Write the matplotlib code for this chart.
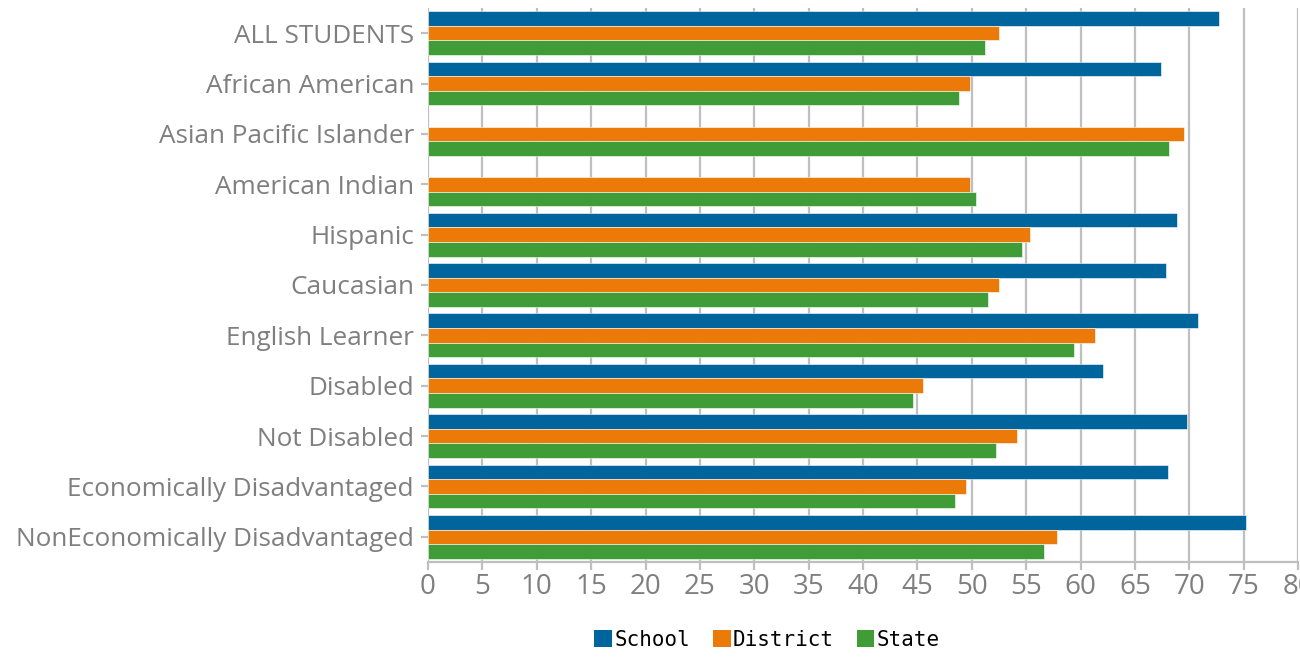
import numpy as np
import matplotlib
matplotlib.use("Agg")
import matplotlib.pyplot as plt
from matplotlib.patches import Patch

categories = ["ALL STUDENTS", "African American", "Asian Pacific Islander",
              "American Indian", "Hispanic", "Caucasian", "English Learner",
              "Disabled", "Not Disabled", "Economically Disadvantaged",
              "NonEconomically Disadvantaged"]
school = [72.7, 67.4, np.nan, np.nan, 68.9, 67.9, 70.8, 62.1, 69.8, 68.0, 75.2]
district = [52.5, 49.8, 69.5, 49.8, 55.4, 52.5, 61.3, 45.5, 54.2, 49.5, 57.8]
state = [51.2, 48.8, 68.1, 50.4, 54.6, 51.5, 59.4, 44.6, 52.2, 48.5, 56.6]
series_names = ["School", "District", "State"]
colors = ["#00659C", "#EB7A09", "#409C36"]
xticks = list(range(0, 81, 5))

fig = plt.figure(figsize=(13, 6.61), dpi=100)
ax = fig.add_axes([428/1300, 99/661, 870/1300, 554/661])

y = np.arange(len(categories))
h = 0.29
for i, (vals, c) in enumerate(zip([school, district, state], colors)):
    ax.barh(y + (i - 1) * h, vals, height=h, color=c, edgecolor="white",
            linewidth=0.4, zorder=3)

ax.set_xlim(0, 80)
ax.set_ylim(len(categories) - 0.5, -0.5)
ax.set_xticks(xticks)
ax.set_yticks(y)
ax.set_yticklabels(categories)
ax.xaxis.grid(True, color="#BFBFBF", linewidth=1.6, zorder=0)
ax.set_axisbelow(True)
for s in ["top", "right", "left"]:
    ax.spines[s].set_visible(False)
ax.spines["bottom"].set_color("#BFBFBF")
ax.spines["bottom"].set_linewidth(1.6)
ax.tick_params(axis="x", colors="#BFBFBF", length=6, width=1.6, labelcolor="#7F7F7F",
               labelsize=20, pad=2)
ax.tick_params(axis="y", colors="#BFBFBF", length=5, width=1.6, labelcolor="#7F7F7F",
               labelsize=18.8, pad=5)
for lab in ax.get_xticklabels() + ax.get_yticklabels():
    lab.set_fontfamily("Open Sans")

handles = [Patch(facecolor=c, edgecolor="none") for c in colors]
fig.legend(handles, series_names, loc="center", bbox_to_anchor=(767/1300, 1 - 640/661),
           ncol=3, frameon=False, handlelength=0.85, handleheight=0.85,
           handletextpad=0.1, columnspacing=1.1,
           prop={"family": "DejaVu Sans Mono", "size": 15})

fig.savefig("out.png", dpi=100)
